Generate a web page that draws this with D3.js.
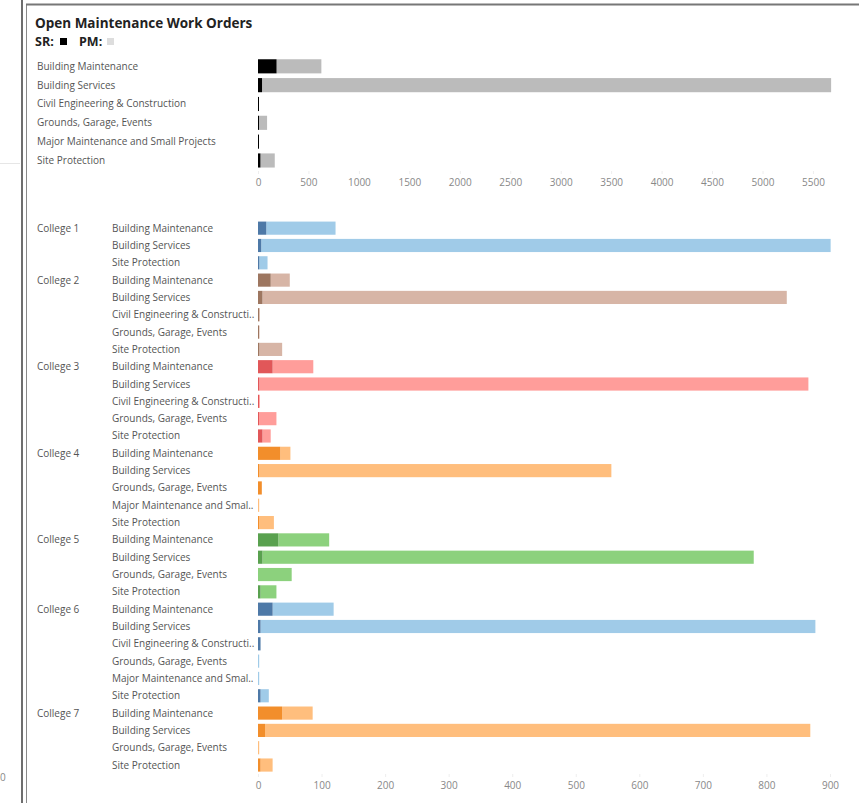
<!DOCTYPE html>
<html>
<head>
<meta charset="utf-8">
<script src="https://cdn.jsdelivr.net/npm/d3@7"></script>
<style>
  body { margin: 0; background: #fff; }
  svg { display: block; font-family: "Open Sans", sans-serif; }
</style>
</head>
<body>
<svg id="chart" width="859" height="803"></svg>
<script>
// top summary: all colleges
var topCats = ["Building Maintenance", "Building Services", "Civil Engineering & Construction",
               "Grounds, Garage, Events", "Major Maintenance and Small Projects", "Site Protection"];
var topSR = [184, 40, 6, 8, 1, 24];
var topPM = [444, 5640, 2, 82, 1, 142];
var topTicks = [0, 500, 1000, 1500, 2000, 2500, 3000, 3500, 4000, 4500, 5000, 5500];

// per college breakdown
var colleges = ["College 1", "College 2", "College 3", "College 4", "College 5", "College 6", "College 7"];
var collegeCats = [
  ["Building Maintenance", "Building Services", "Site Protection"],
  ["Building Maintenance", "Building Services", "Civil Engineering & Construction", "Grounds, Garage, Events", "Site Protection"],
  ["Building Maintenance", "Building Services", "Civil Engineering & Construction", "Grounds, Garage, Events", "Site Protection"],
  ["Building Maintenance", "Building Services", "Grounds, Garage, Events", "Major Maintenance and Small Projects", "Site Protection"],
  ["Building Maintenance", "Building Services", "Grounds, Garage, Events", "Site Protection"],
  ["Building Maintenance", "Building Services", "Civil Engineering & Construction", "Grounds, Garage, Events", "Major Maintenance and Small Projects", "Site Protection"],
  ["Building Maintenance", "Building Services", "Grounds, Garage, Events", "Site Protection"]
];
var collegeSR = [
  [13, 5, 2],
  [20, 7, 1, 0.5, 2],
  [23, 2, 1, 1, 7],
  [35, 2, 6, 0, 1],
  [32, 7, 0, 4],
  [23, 4, 4, 0, 0, 4],
  [38, 11, 0, 4]
];
var collegePM = [
  [109, 896, 13],
  [30, 825, 1, 1, 36],
  [64, 864, 1, 28, 13],
  [16, 554, 0, 1, 24],
  [80, 773, 53, 25],
  [96, 873, 0, 1, 1, 13],
  [48, 858, 1, 19]
];
var bottomTicks = [0, 100, 200, 300, 400, 500, 600, 700, 800, 900];
var darkColors  = ["#4e79a7", "#9d7660", "#e15759", "#f28e2b", "#59a14f", "#4e79a7", "#f28e2b"];
var lightColors = ["#a0cbe8", "#d7b5a6", "#ff9d9a", "#ffbe7d", "#8cd17d", "#a0cbe8", "#ffbe7d"];

var svg = d3.select("#chart");

// frame lines
svg.append("line").attr("x1", 22).attr("x2", 22).attr("y1", 0).attr("y2", 803)
  .style("stroke", "#6e6e6e").style("stroke-width", 2);
svg.append("line").attr("x1", 26.5).attr("x2", 26.5).attr("y1", 4).attr("y2", 803)
  .style("stroke", "#8a8a8a").style("stroke-width", 1);
svg.append("line").attr("x1", 26).attr("x2", 859).attr("y1", 4.5).attr("y2", 4.5)
  .style("stroke", "#777").style("stroke-width", 2);
svg.append("line").attr("x1", 0).attr("x2", 20).attr("y1", 163.5).attr("y2", 163.5)
  .style("stroke", "#e6e6e6");
svg.append("text").attr("x", 0).attr("y", 781).style("font-size", "10px").style("fill", "#888").text("0");

// title
svg.append("text").attr("x", 35).attr("y", 28)
  .style("font-size", "13.5px").style("font-weight", "bold").style("fill", "#222")
  .text("Open Maintenance Work Orders");
var leg = svg.append("text").attr("y", 46)
  .style("font-size", "12.5px").style("font-weight", "bold").style("fill", "#222");
leg.append("tspan").attr("x", 35).text("SR:");
leg.append("tspan").attr("x", 79).text("PM:");
svg.append("rect").attr("x", 60).attr("y", 38).attr("width", 7).attr("height", 7).style("fill", "#000");
svg.append("rect").attr("x", 107).attr("y", 38).attr("width", 7).attr("height", 7).style("fill", "#ddd");

// ---------- top chart ----------
var xTop = d3.scaleLinear().domain([0, 5700]).range([258, 258 + 5700 * 0.1009]);
var yTop = d3.scaleBand().domain(topCats).range([57, 169.8]).paddingInner(0.25).paddingOuter(0.12);

var gTop = svg.append("g");
gTop.selectAll(".lbl").data(topCats).enter().append("text")
  .attr("x", 37).attr("y", function(d) { return yTop(d) + yTop.bandwidth() / 2; })
  .attr("dy", "0.35em").style("font-size", "10px").style("fill", "#555")
  .text(function(d) { return d; });

gTop.selectAll(".pm").data(topCats).enter().append("rect")
  .attr("x", function(d, i) { return xTop(topSR[i]); })
  .attr("y", function(d) { return yTop(d); })
  .attr("width", function(d, i) { return xTop(topSR[i] + topPM[i]) - xTop(topSR[i]); })
  .attr("height", yTop.bandwidth())
  .style("fill", "#bbbbbb");
gTop.selectAll(".sr").data(topCats).enter().append("rect")
  .attr("x", xTop(0))
  .attr("y", function(d) { return yTop(d); })
  .attr("width", function(d, i) { return Math.max(1, xTop(topSR[i]) - xTop(0)); })
  .attr("height", yTop.bandwidth())
  .style("fill", "#000");

var axTop = gTop.append("g").attr("transform", "translate(0,171)")
  .call(d3.axisBottom(xTop).tickValues(topTicks).tickFormat(d3.format("d")).tickSize(3).tickPadding(5));
axTop.select(".domain").remove();
axTop.selectAll("line").style("stroke", "#eee");
axTop.selectAll("text").style("font-size", "10px").style("fill", "#888").style("font-family", "Open Sans");

// ---------- bottom chart ----------
var rows = [];
colleges.forEach(function(c, ci) {
  collegeCats[ci].forEach(function(cat, k) {
    rows.push({college: c, ci: ci, first: k === 0, cat: cat, sr: collegeSR[ci][k], pm: collegePM[ci][k], key: c + "|" + cat});
  });
});

var xBot = d3.scaleLinear().domain([0, 900]).range([258, 830]);
var yBot = d3.scaleBand().domain(rows.map(function(d) { return d.key; }))
  .range([219.5, 773.7]).paddingInner(0.24).paddingOuter(0.12);

var gBot = svg.append("g");
var rowG = gBot.selectAll(".row").data(rows).enter().append("g")
  .attr("transform", function(d) { return "translate(0," + yBot(d.key) + ")"; });

rowG.filter(function(d) { return d.first; }).append("text")
  .attr("x", 37).attr("y", yBot.bandwidth() / 2).attr("dy", "0.35em")
  .style("font-size", "10px").style("fill", "#555")
  .text(function(d) { return d.college; });

rowG.append("text")
  .attr("x", 112).attr("y", yBot.bandwidth() / 2).attr("dy", "0.35em")
  .style("font-size", "10px").style("fill", "#555")
  .text(function(d) { return d.cat; })
  .each(function(d) {
    var t = d3.select(this), s = d.cat;
    if (this.getComputedTextLength() > 143) {
      while (s.length > 0) {
        s = s.slice(0, -1);
        t.text(s + "..");
        if (this.getComputedTextLength() <= 143) break;
      }
    }
  });

// small counts still get a visible sliver, like the original
rowG.append("rect")
  .attr("x", function(d) { return xBot(d.sr); })
  .attr("width", function(d) { return d.pm > 0 ? Math.max(1.2, xBot(d.sr + d.pm) - xBot(d.sr)) : 0; })
  .attr("height", yBot.bandwidth())
  .style("fill", function(d) { return lightColors[d.ci]; });
rowG.append("rect")
  .attr("x", xBot(0))
  .attr("width", function(d) { return d.sr > 0 ? Math.max(1, xBot(d.sr) - xBot(0)) : 0; })
  .attr("height", yBot.bandwidth())
  .style("fill", function(d) { return darkColors[d.ci]; });

var axBot = gBot.append("g").attr("transform", "translate(0,774)")
  .call(d3.axisBottom(xBot).tickValues(bottomTicks).tickSize(3).tickPadding(5));
axBot.select(".domain").remove();
axBot.selectAll("line").style("stroke", "#eee");
axBot.selectAll("text").style("font-size", "10px").style("fill", "#888").style("font-family", "Open Sans");
</script>
</body>
</html>
